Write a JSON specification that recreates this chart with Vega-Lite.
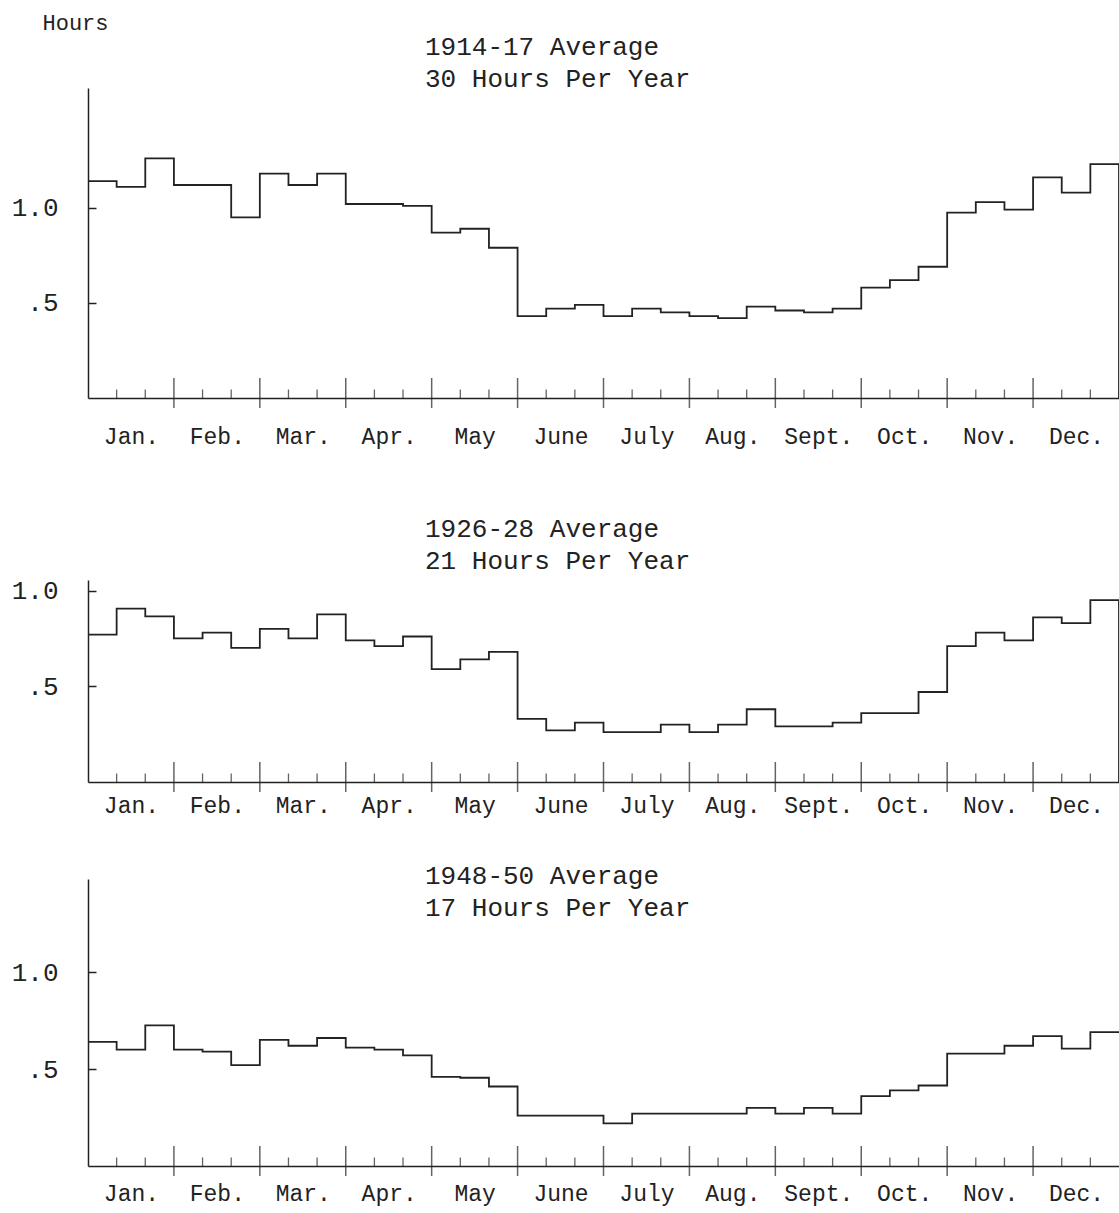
{
  "$schema": "https://vega.github.io/schema/vega-lite/v6.json",
  "background": "white",
  "padding": {"left": 11, "top": 11, "right": 0, "bottom": 6},
  "config": {
    "view": {"stroke": null},
    "font": "Liberation Mono",
    "title": {"font": "Liberation Mono", "fontSize": 26, "fontWeight": "normal", "color": "#222", "anchor": "start", "frame": "group", "dx": 337, "lineHeight": 32, "offset": 4},
    "axis": {"labelFont": "Liberation Mono", "labelFontSize": 26, "labelColor": "#222", "domainColor": "#222", "domainWidth": 1.5, "tickColor": "#222", "tickWidth": 1.5, "grid": false, "titleFont": "Liberation Mono", "titleFontWeight": "normal", "titleColor": "#222"},
    "axisX": {"labelFontSize": 23}
  },
  "datasets": {
    "p1": [
      {"p": 0, "v": 1.14}, {"p": 1, "v": 1.11}, {"p": 2, "v": 1.26},
      {"p": 3, "v": 1.12}, {"p": 4, "v": 1.12}, {"p": 5, "v": 0.95},
      {"p": 6, "v": 1.18}, {"p": 7, "v": 1.12}, {"p": 8, "v": 1.18},
      {"p": 9, "v": 1.02}, {"p": 10, "v": 1.02}, {"p": 11, "v": 1.01},
      {"p": 12, "v": 0.87}, {"p": 13, "v": 0.89}, {"p": 14, "v": 0.79},
      {"p": 15, "v": 0.43}, {"p": 16, "v": 0.47}, {"p": 17, "v": 0.49},
      {"p": 18, "v": 0.43}, {"p": 19, "v": 0.47}, {"p": 20, "v": 0.45},
      {"p": 21, "v": 0.43}, {"p": 22, "v": 0.42}, {"p": 23, "v": 0.48},
      {"p": 24, "v": 0.46}, {"p": 25, "v": 0.45}, {"p": 26, "v": 0.47},
      {"p": 27, "v": 0.58}, {"p": 28, "v": 0.62}, {"p": 29, "v": 0.69},
      {"p": 30, "v": 0.975}, {"p": 31, "v": 1.03}, {"p": 32, "v": 0.99},
      {"p": 33, "v": 1.16}, {"p": 34, "v": 1.08}, {"p": 35, "v": 1.23},
      {"p": 36, "v": 0}
    ],
    "p2": [
      {"p": 0, "v": 0.77}, {"p": 1, "v": 0.905}, {"p": 2, "v": 0.865},
      {"p": 3, "v": 0.75}, {"p": 4, "v": 0.78}, {"p": 5, "v": 0.70},
      {"p": 6, "v": 0.80}, {"p": 7, "v": 0.75}, {"p": 8, "v": 0.875},
      {"p": 9, "v": 0.74}, {"p": 10, "v": 0.71}, {"p": 11, "v": 0.76},
      {"p": 12, "v": 0.59}, {"p": 13, "v": 0.64}, {"p": 14, "v": 0.68},
      {"p": 15, "v": 0.33}, {"p": 16, "v": 0.27}, {"p": 17, "v": 0.31},
      {"p": 18, "v": 0.26}, {"p": 19, "v": 0.26}, {"p": 20, "v": 0.30},
      {"p": 21, "v": 0.26}, {"p": 22, "v": 0.30}, {"p": 23, "v": 0.38},
      {"p": 24, "v": 0.29}, {"p": 25, "v": 0.29}, {"p": 26, "v": 0.31},
      {"p": 27, "v": 0.36}, {"p": 28, "v": 0.36}, {"p": 29, "v": 0.47},
      {"p": 30, "v": 0.71}, {"p": 31, "v": 0.78}, {"p": 32, "v": 0.74},
      {"p": 33, "v": 0.86}, {"p": 34, "v": 0.83}, {"p": 35, "v": 0.95},
      {"p": 36, "v": 0}
    ],
    "p3": [
      {"p": 0, "v": 0.64}, {"p": 1, "v": 0.60}, {"p": 2, "v": 0.725},
      {"p": 3, "v": 0.60}, {"p": 4, "v": 0.59}, {"p": 5, "v": 0.52},
      {"p": 6, "v": 0.65}, {"p": 7, "v": 0.62}, {"p": 8, "v": 0.66},
      {"p": 9, "v": 0.61}, {"p": 10, "v": 0.60}, {"p": 11, "v": 0.57},
      {"p": 12, "v": 0.46}, {"p": 13, "v": 0.455}, {"p": 14, "v": 0.41},
      {"p": 15, "v": 0.26}, {"p": 16, "v": 0.26}, {"p": 17, "v": 0.26},
      {"p": 18, "v": 0.22}, {"p": 19, "v": 0.27}, {"p": 20, "v": 0.27},
      {"p": 21, "v": 0.27}, {"p": 22, "v": 0.27}, {"p": 23, "v": 0.30},
      {"p": 24, "v": 0.27}, {"p": 25, "v": 0.30}, {"p": 26, "v": 0.27},
      {"p": 27, "v": 0.36}, {"p": 28, "v": 0.39}, {"p": 29, "v": 0.415},
      {"p": 30, "v": 0.58}, {"p": 31, "v": 0.58}, {"p": 32, "v": 0.62},
      {"p": 33, "v": 0.67}, {"p": 34, "v": 0.605}, {"p": 35, "v": 0.69},
      {"p": 36, "v": 0.69}
    ],
    "ticks": [
      {"p": 1}, {"p": 2}, {"p": 3}, {"p": 4}, {"p": 5}, {"p": 6}, {"p": 7}, {"p": 8}, {"p": 9},
      {"p": 10}, {"p": 11}, {"p": 12}, {"p": 13}, {"p": 14}, {"p": 15}, {"p": 16}, {"p": 17}, {"p": 18},
      {"p": 19}, {"p": 20}, {"p": 21}, {"p": 22}, {"p": 23}, {"p": 24}, {"p": 25}, {"p": 26}, {"p": 27},
      {"p": 28}, {"p": 29}, {"p": 30}, {"p": 31}, {"p": 32}, {"p": 33}, {"p": 34}, {"p": 35}
    ]
  },
  "bounds": "flush",
  "spacing": 182,
  "vconcat": [
    {
      "width": 1031,
      "height": 310,
      "title": {"text": ["1914-17 Average", "30 Hours Per Year"], "offset": -81},
      "encoding": {
        "x": {"field": "p", "type": "quantitative", "scale": {"domain": [0, 36], "nice": false, "zero": false},
          "axis": {"values": [1.5, 4.5, 7.5, 10.5, 13.5, 16.5, 19.5, 22.5, 25.5, 28.5, 31.5, 34.5], "labelExpr": "['Jan.','Feb.','Mar.','Apr.','May','June','July','Aug.','Sept.','Oct.','Nov.','Dec.'][floor(datum.value/3)]", "ticks": false, "labelPadding": 27, "title": null, "labelFlush": false}}
      },
      "layer": [
        {
          "data": {"name": "p1"},
          "mark": {"type": "line", "interpolate": "step-after", "color": "#222", "strokeWidth": 1.8},
          "encoding": {
            "y": {"field": "v", "type": "quantitative", "scale": {"domain": [0, 1.63], "nice": false},
              "axis": {"values": [0.5, 1], "labelExpr": "datum.value == 1 ? '1.0' : '.5'", "tickSize": -8, "labelPadding": 38, "title": "Hours", "titleAngle": 0, "titleX": -46, "titleY": -66, "titleAlign": "left", "titleBaseline": "middle", "titleFontSize": 22}}
          }
        },
        {
          "data": {"name": "ticks"},
          "transform": [{"filter": "datum.p % 3 === 0"}],
          "mark": {"type": "tick", "orient": "vertical", "color": "#222", "thickness": 1.5, "size": 30, "yOffset": -5},
          "encoding": {"y": {"datum": 0}}
        },
        {
          "data": {"name": "ticks"},
          "transform": [{"filter": "datum.p % 3 !== 0"}],
          "mark": {"type": "tick", "orient": "vertical", "color": "#222", "thickness": 1.3, "size": 9, "yOffset": -4},
          "encoding": {"y": {"datum": 0}}
        }
      ]
    },
    {
      "bounds": "flush",
      "spacing": 97,
      "vconcat": [
        {
          "width": 1031,
          "height": 202,
          "title": {"text": ["1926-28 Average", "21 Hours Per Year"], "offset": 4},
          "encoding": {
            "x": {"field": "p", "type": "quantitative", "scale": {"domain": [0, 36], "nice": false, "zero": false},
              "axis": {"values": [1.5, 4.5, 7.5, 10.5, 13.5, 16.5, 19.5, 22.5, 25.5, 28.5, 31.5, 34.5], "labelExpr": "['Jan.','Feb.','Mar.','Apr.','May','June','July','Aug.','Sept.','Oct.','Nov.','Dec.'][floor(datum.value/3)]", "ticks": false, "labelPadding": 12, "title": null, "labelFlush": false}}
          },
          "layer": [
            {
              "data": {"name": "p2"},
              "mark": {"type": "line", "interpolate": "step-after", "color": "#222", "strokeWidth": 1.8},
              "encoding": {
                "y": {"field": "v", "type": "quantitative", "scale": {"domain": [0, 1.055], "nice": false},
                  "axis": {"values": [0.5, 1], "labelExpr": "datum.value == 1 ? '1.0' : '.5'", "tickSize": -8, "labelPadding": 38, "title": null}}
              }
            },
            {
              "data": {"name": "ticks"},
              "transform": [{"filter": "datum.p % 3 === 0"}],
              "mark": {"type": "tick", "orient": "vertical", "color": "#222", "thickness": 1.5, "size": 30, "yOffset": -5},
              "encoding": {"y": {"datum": 0}}
            },
            {
              "data": {"name": "ticks"},
              "transform": [{"filter": "datum.p % 3 !== 0"}],
              "mark": {"type": "tick", "orient": "vertical", "color": "#222", "thickness": 1.3, "size": 9, "yOffset": -4},
              "encoding": {"y": {"datum": 0}}
            }
          ]
        },
        {
          "width": 1031,
          "height": 287,
          "title": {"text": ["1948-50 Average", "17 Hours Per Year"], "offset": -42},
          "encoding": {
            "x": {"field": "p", "type": "quantitative", "scale": {"domain": [0, 36], "nice": false, "zero": false},
              "axis": {"values": [1.5, 4.5, 7.5, 10.5, 13.5, 16.5, 19.5, 22.5, 25.5, 28.5, 31.5, 34.5], "labelExpr": "['Jan.','Feb.','Mar.','Apr.','May','June','July','Aug.','Sept.','Oct.','Nov.','Dec.'][floor(datum.value/3)]", "ticks": false, "labelPadding": 16, "title": null, "labelFlush": false}}
          },
          "layer": [
            {
              "data": {"name": "p3"},
              "mark": {"type": "line", "interpolate": "step-after", "color": "#222", "strokeWidth": 1.8},
              "encoding": {
                "y": {"field": "v", "type": "quantitative", "scale": {"domain": [0, 1.48], "nice": false},
                  "axis": {"values": [0.5, 1], "labelExpr": "datum.value == 1 ? '1.0' : '.5'", "tickSize": -8, "labelPadding": 38, "title": null}}
              }
            },
            {
              "data": {"name": "ticks"},
              "transform": [{"filter": "datum.p % 3 === 0"}],
              "mark": {"type": "tick", "orient": "vertical", "color": "#222", "thickness": 1.5, "size": 30, "yOffset": -5},
              "encoding": {"y": {"datum": 0}}
            },
            {
              "data": {"name": "ticks"},
              "transform": [{"filter": "datum.p % 3 !== 0"}],
              "mark": {"type": "tick", "orient": "vertical", "color": "#222", "thickness": 1.3, "size": 9, "yOffset": -4},
              "encoding": {"y": {"datum": 0}}
            }
          ]
        }
      ]
    }
  ]
}
